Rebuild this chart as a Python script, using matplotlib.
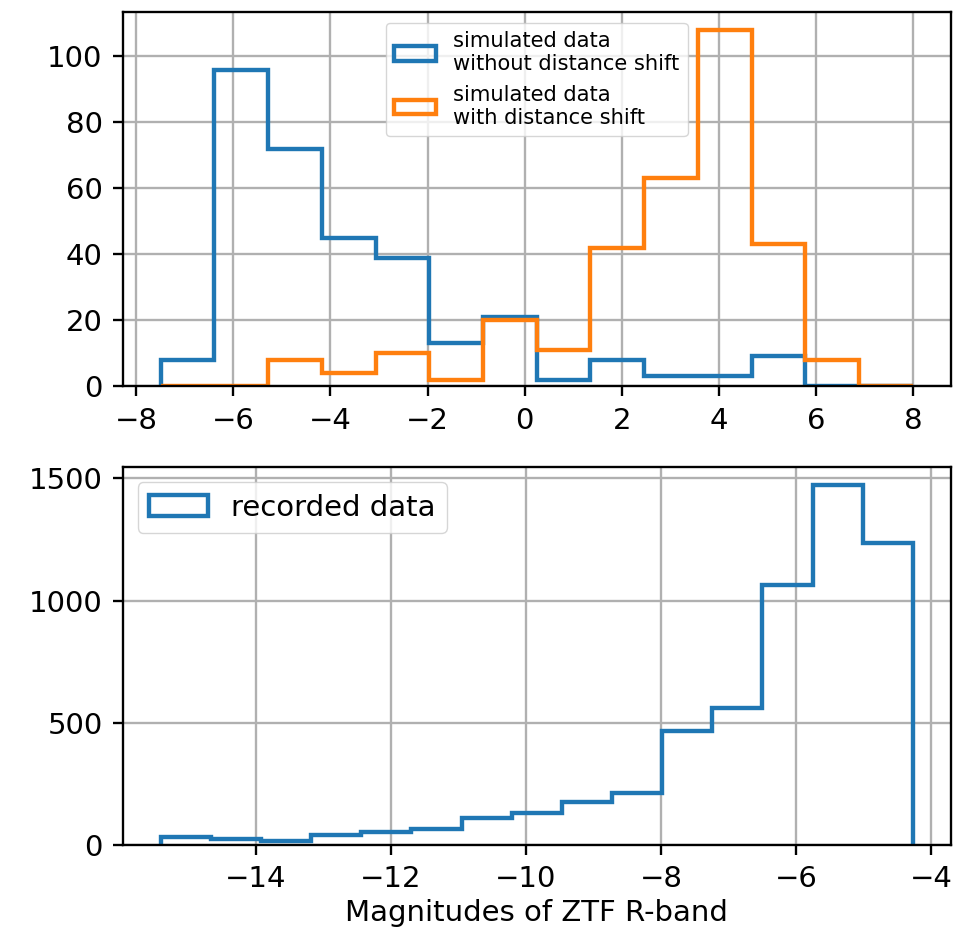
import numpy as np
import matplotlib
matplotlib.use("Agg")
import matplotlib.pyplot as plt

# Данные гистограмм
sim_edges = np.linspace(-7.5, 8.0, 15)
sim_no_shift = [8, 96, 72, 45, 39, 13, 21, 2, 8, 3, 3, 9, 0, 0]
sim_shift = [0, 0, 8, 4, 10, 2, 20, 11, 42, 63, 108, 43, 8, 0]

rec_edges = np.linspace(-15.41, -4.27, 16)
rec_counts = [32, 26, 14, 41, 52, 67, 111, 130, 175, 212, 465, 561, 1065, 1472, 1236]

s = 2.1  # масштаб
plt.rcParams.update({
    "font.size": 10 * s,
    "lines.linewidth": 1.5 * s,
    "axes.linewidth": 0.8 * s,
    "grid.linewidth": 0.8 * s,
    "xtick.major.width": 0.8 * s,
    "ytick.major.width": 0.8 * s,
    "xtick.major.size": 3.5 * s,
    "ytick.major.size": 3.5 * s,
    "xtick.major.pad": 3.5 * s,
    "ytick.major.pad": 3.5 * s,
    "legend.fontsize": 10 * s,
})

fig = plt.figure(figsize=(9.68, 9.44), dpi=100)
ax1 = fig.add_axes([0.127, 0.591, 0.855, 0.396])
ax2 = fig.add_axes([0.127, 0.105, 0.855, 0.400])

ax1.hist(sim_edges[:-1], bins=sim_edges, weights=sim_no_shift, histtype="step",
         color="#1f77b4", linewidth=1.5 * s, label="simulated data\nwithout distance shift")
ax1.hist(sim_edges[:-1], bins=sim_edges, weights=sim_shift, histtype="step",
         color="#ff7f0e", linewidth=1.5 * s, label="simulated data\nwith distance shift")
ax1.set_xticks(np.arange(-8, 9, 2))
ax1.set_yticks(np.arange(0, 101, 20))
ax1.grid(True)
ax1.legend(loc="upper center", fontsize=7.2 * s)

ax2.hist(rec_edges[:-1], bins=rec_edges, weights=rec_counts, histtype="step",
         color="#1f77b4", linewidth=1.5 * s, label="recorded data")
ax2.set_yticks([0, 500, 1000, 1500])
ax2.grid(True)
ax2.legend(loc="upper left")
ax2.set_xlabel("Magnitudes of ZTF R-band")

fig.savefig("out.png", dpi=100)
